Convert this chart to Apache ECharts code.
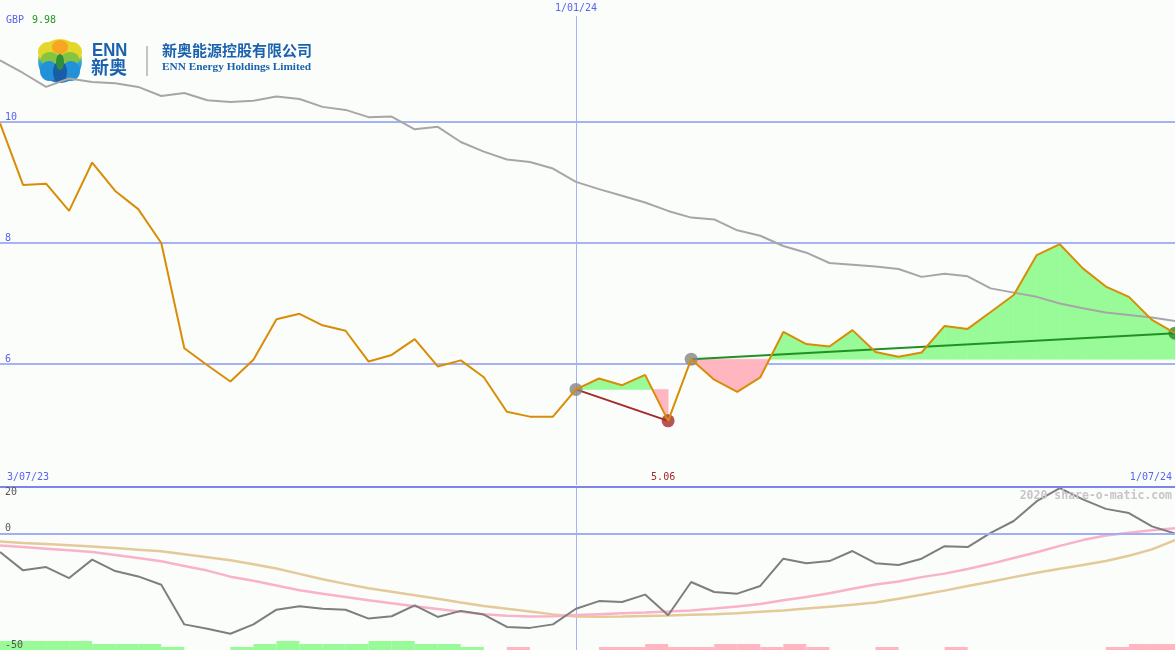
<!DOCTYPE html>
<html><head><meta charset="utf-8">
<script src="https://cdn.jsdelivr.net/npm/echarts@6/dist/echarts.min.js"></script>
<style>html,body{margin:0;padding:0;background:#fbfdfb}#c{width:1175px;height:650px}</style>
</head><body><div id="c"></div><script>
// ---------- data ----------
const dates = ['10/07/23','17/07/23','24/07/23','31/07/23','7/08/23','14/08/23','21/08/23','28/08/23','4/09/23','11/09/23',
'18/09/23','25/09/23','2/10/23','9/10/23','16/10/23','23/10/23','30/10/23','6/11/23','13/11/23','20/11/23',
'27/11/23','4/12/23','11/12/23','18/12/23','25/12/23','1/01/24','8/01/24','15/01/24','22/01/24','29/01/24',
'5/02/24','12/02/24','19/02/24','26/02/24','4/03/24','11/03/24','18/03/24','25/03/24','1/04/24','8/04/24',
'15/04/24','22/04/24','29/04/24','6/05/24','13/05/24','20/05/24','27/05/24','3/06/24','10/06/24','17/06/24',
'24/06/24','1/07/24'];
const price = [9.98,8.96,8.98,8.53,9.33,8.86,8.56,8.00,6.26,5.98,
5.71,6.07,6.74,6.83,6.64,6.55,6.04,6.15,6.41,5.96,
6.06,5.78,5.21,5.13,5.13,5.58,5.76,5.65,5.82,5.06,
6.08,5.74,5.54,5.78,6.53,6.33,6.29,6.56,6.20,6.12,
6.19,6.63,6.58,6.86,7.14,7.80,7.98,7.58,7.28,7.11,
6.73,6.51];
const movingAvg = [11.02,10.81,10.58,10.72,10.66,10.64,10.58,10.43,10.48,10.36,
10.33,10.35,10.42,10.38,10.25,10.20,10.08,10.09,9.88,9.92,
9.67,9.51,9.38,9.34,9.23,9.01,8.89,8.78,8.67,8.53,
8.42,8.39,8.21,8.12,7.95,7.84,7.67,7.64,7.61,7.57,
7.44,7.49,7.45,7.25,7.18,7.11,7.00,6.92,6.85,6.81,
6.77,6.71];
const oscillator = [-7.9,-15.8,-14.4,-19.1,-11.2,-16.1,-18.4,-22.0,-39.0,-40.9,
-43.0,-39.0,-32.7,-31.2,-32.3,-32.7,-36.5,-35.5,-30.8,-35.8,
-33.2,-34.8,-40.1,-40.5,-39.0,-32.3,-29.0,-29.4,-26.2,-35.1,
-20.8,-25.1,-25.8,-22.5,-10.8,-12.7,-11.8,-7.5,-12.7,-13.5,
-10.8,-5.4,-5.8,0.3,5.4,13.9,19.5,14.7,10.6,8.8,
3.1,0.0];
const oscFast = [-5.1,-5.8,-6.5,-7.2,-7.9,-9.2,-10.5,-11.9,-13.9,-15.9,
-18.5,-20.3,-22.3,-24.3,-25.8,-27.2,-28.6,-29.9,-31.2,-32.4,
-33.6,-34.6,-35.3,-35.6,-35.5,-35.0,-34.6,-34.2,-33.9,-33.5,
-33.0,-32.2,-31.3,-30.2,-28.6,-27.2,-25.6,-23.7,-21.9,-20.6,
-18.7,-17.2,-15.2,-13.0,-10.5,-8.0,-5.3,-2.8,-0.8,0.4,
1.4,2.3];
const oscSlow = [-3.4,-4.0,-4.5,-5.0,-5.5,-6.2,-6.9,-7.6,-8.9,-10.2,
-11.5,-13.2,-15.0,-17.3,-19.6,-21.6,-23.5,-25.0,-26.5,-28.0,
-29.6,-31.1,-32.3,-33.5,-34.7,-35.6,-35.7,-35.6,-35.4,-35.2,
-34.9,-34.6,-34.2,-33.6,-33.0,-32.2,-31.4,-30.6,-29.6,-28.0,
-26.3,-24.5,-22.5,-20.7,-18.7,-16.8,-15.1,-13.5,-11.8,-9.5,
-6.8,-2.8];
// weekly signal blocks (between consecutive points): + green, - pink
const signalLevels = [3,3,3,3,2,2,2,1,0,0,
1,2,3,2,2,2,3,3,2,2,
1,0,-1,0,0,0,-1,-1,-2,-1,
-1,-2,-2,-1,-2,-1,0,0,-1,0,
0,-1,0,0,0,0,0,0,-1,-2,
-2];
const priceTicks = [6, 8, 10];
const oscTicks = [20, 0, -50];
const dateTickIdx = [0, 25, 51];
const dateTickText = ['3/07/23', '1/01/24', '1/07/24'];
const dateTickSide = ['bottom', 'top', 'bottom'];
const trendDown = [25, 29];
const trendUp = [30, 51];
const currency = 'GBP';

// ---------- styles ----------
const MONO = '"DejaVu Sans Mono", monospace';
const BG = '#fbfdfb';
const BLUE_TXT = '#5a62f0';
const GRID_C = '#a6b2f2';
const GREEN_F = '#98fb98', PINK_F = '#ffb6c1';
const T = 'rgba(0,0,0,0)';

const barCats = dates.slice(1);
const fillData = [];
[trendDown, trendUp].forEach(([s, e]) => {
  for (let k = s; k < e; k++) fillData.push([k, price[k], price[k + 1], price[s]]);
});

function renderFill(params, api) {
  const k = api.value(0), v0 = api.value(1), v1 = api.value(2), b = api.value(3);
  const p0 = api.coord([k, v0]), p1 = api.coord([k + 1, v1]);
  const b0 = api.coord([k, b]), b1 = api.coord([k + 1, b]);
  const ch = [];
  const poly = (pts, c) => ch.push({type: 'polygon', shape: {points: pts}, style: {fill: c, stroke: c, lineWidth: 0.6}});
  const d0 = v0 - b, d1 = v1 - b;
  if (d0 >= 0 && d1 >= 0) poly([b0, p0, p1, b1], GREEN_F);
  else if (d0 <= 0 && d1 <= 0) poly([b0, p0, p1, b1], PINK_F);
  else {
    const t = d0 / (d0 - d1);
    const xc = p0[0] + t * (p1[0] - p0[0]);
    const c = [xc, b0[1]];
    poly([b0, p0, c], d0 > 0 ? GREEN_F : PINK_F);
    poly([c, p1, b1], d1 > 0 ? GREEN_F : PINK_F);
  }
  return {type: 'group', children: ch};
}

const bottomLabel = (i) => {
  const j = dateTickIdx.indexOf(i);
  return (j >= 0 && dateTickSide[j] === 'bottom') || i === trendDown[1];
};
const topLabel = (i) => {
  const j = dateTickIdx.indexOf(i);
  return j >= 0 && dateTickSide[j] === 'top';
};

const option = {
  backgroundColor: BG,
  animation: false,
  grid: [
    {left: 0, right: 0, top: 1, height: 484},
    {left: 0, right: 0, top: 487, height: 163}
  ],
  xAxis: [
    {gridIndex: 0, type: 'category', data: dates, boundaryGap: false, position: 'bottom',
     axisLine: {show: false}, axisTick: {show: false}, splitLine: {show: false},
     axisLabel: {inside: true, margin: 3, interval: (i) => bottomLabel(i),
       alignMinLabel: 'left', alignMaxLabel: 'right',
       fontFamily: MONO, fontSize: 10, color: BLUE_TXT,
       formatter: (v, i) => {
         if (i === trendDown[1]) return '{r|' + price[i].toFixed(2) + '}';
         const j = dateTickIdx.indexOf(i);
         return j >= 0 ? '{d|' + dateTickText[j] + '}' : '';
       },
       rich: {r: {color: '#a52a2a', fontFamily: MONO, fontSize: 10, padding: [0, 10, 0, 0]},
              d: {color: BLUE_TXT, fontFamily: MONO, fontSize: 10, padding: [0, 3, 0, 7]}}}},
    {gridIndex: 0, type: 'category', data: dates, boundaryGap: false, position: 'top',
     axisLine: {show: false}, axisTick: {show: false},
     splitLine: {show: true, interval: (i) => topLabel(i), lineStyle: {color: '#a9b1f4', width: 1}},
     axisLabel: {inside: true, margin: 0, interval: (i) => topLabel(i),
       fontFamily: MONO, fontSize: 10, color: BLUE_TXT, backgroundColor: BG, padding: [2, 3, 3, 3],
       formatter: (v, i) => { const j = dateTickIdx.indexOf(i); return j >= 0 ? dateTickText[j] : ''; }}},
    {gridIndex: 1, type: 'category', data: dates, boundaryGap: false,
     axisLine: {show: false}, axisTick: {show: false}, axisLabel: {show: false},
     splitLine: {show: true, interval: (i) => topLabel(i), lineStyle: {color: '#a9b1f4', width: 1}}},
    {gridIndex: 1, type: 'category', data: barCats, boundaryGap: true, show: false}
  ],
  yAxis: [
    {gridIndex: 0, type: 'value', min: 4, max: 12, interval: 2,
     axisLine: {show: false}, axisTick: {show: false},
     splitLine: {show: true, lineStyle: {color: [T, GRID_C, GRID_C, GRID_C, T], width: 2}},
     axisLabel: {inside: true, margin: 5, verticalAlign: 'bottom', fontFamily: MONO, fontSize: 10, color: BLUE_TXT,
       formatter: (v) => priceTicks.includes(v) ? String(v) : ''}},
    {gridIndex: 1, type: 'value', min: -50, max: 20, interval: 10, z: 10,
     axisLine: {show: false}, axisTick: {show: false},
     splitLine: {show: true, lineStyle: {color: [T, T, T, T, T, '#a2aef0', T, '#7a86ea'], width: 2}},
     axisLabel: {inside: true, margin: 5, verticalAlign: 'bottom', verticalAlignMaxLabel: 'top',
       fontFamily: MONO, fontSize: 10, color: '#555555',
       formatter: (v) => oscTicks.includes(v) ? String(v) : ''}},
    {gridIndex: 1, type: 'value', min: 0, max: 54, show: false}
  ],
  series: [
    {type: 'custom', xAxisIndex: 0, yAxisIndex: 0, renderItem: renderFill, data: fillData, z: 1,
     encode: {x: 0, y: 1}, silent: true},
    {type: 'line', xAxisIndex: 0, yAxisIndex: 0, data: movingAvg, symbol: 'none', z: 2,
     lineStyle: {color: '#a6a6a6', width: 2}},
    {type: 'line', xAxisIndex: 0, yAxisIndex: 0, data: trendDown.map(i => [i, price[i]]), symbol: 'none', z: 3,
     lineStyle: {color: '#a52a2a', width: 2}},
    {type: 'line', xAxisIndex: 0, yAxisIndex: 0, data: trendUp.map(i => [i, price[i]]), symbol: 'none', z: 3,
     lineStyle: {color: '#229022', width: 2}},
    {type: 'scatter', xAxisIndex: 0, yAxisIndex: 0, symbolSize: 13, z: 4,
     data: [
       {value: [trendDown[0], price[trendDown[0]]], itemStyle: {color: '#858585'}},
       {value: [trendDown[1], price[trendDown[1]]], itemStyle: {color: '#a52a2a'}},
       {value: [trendUp[0], price[trendUp[0]]], itemStyle: {color: '#858585'}},
       {value: [trendUp[1], price[trendUp[1]]], itemStyle: {color: '#228b22'}}
     ]},
    {type: 'line', xAxisIndex: 0, yAxisIndex: 0, data: price, symbol: 'none', z: 5,
     lineStyle: {color: '#d98d06', width: 2}},
    {type: 'bar', xAxisIndex: 3, yAxisIndex: 2, barWidth: '100%', barCategoryGap: 0, z: 1,
     data: signalLevels.map(v => ({value: Math.abs(v), itemStyle: {color: v >= 0 ? GREEN_F : PINK_F}}))},
    {type: 'line', xAxisIndex: 2, yAxisIndex: 1, data: oscSlow, symbol: 'none', z: 2,
     lineStyle: {color: '#e3ca98', width: 2.5}},
    {type: 'line', xAxisIndex: 2, yAxisIndex: 1, data: oscFast, symbol: 'none', z: 3,
     lineStyle: {color: '#f9b2c8', width: 2.5}},
    {type: 'line', xAxisIndex: 2, yAxisIndex: 1, data: oscillator, symbol: 'none', z: 4,
     lineStyle: {color: '#7e7e7e', width: 2}}
  ],
  graphic: [
    {type: 'text', x: 6, y: 15, z: 10, style: {
      text: '{a|' + currency + '}{b|' + price[0].toFixed(2) + '}',
      rich: {a: {fill: BLUE_TXT, font: '10px ' + MONO, padding: [0, 8, 0, 0]}, b: {fill: '#1f9a1f', font: '10px ' + MONO}}}},
    {type: 'text', right: 3, top: 490, z: 10, style: {
      text: '2020 share-o-matic.com', fill: '#c6c6c6', font: 'bold 11.5px ' + MONO}},
    // logo
    {type: 'group', x: 0, y: 0, z: 10, children: [
      {type: 'circle', shape: {cx: 60, cy: 61, r: 22}, style: {fill: {type: 'linear', x: 0, y: 0, x2: 0, y2: 1,
        colorStops: [{offset: 0, color: '#f6d71c'}, {offset: 0.42, color: '#9ccc3c'}, {offset: 0.55, color: '#2aa4e2'}, {offset: 1, color: '#1d6fc2'}]}}},
      {type: 'ellipse', shape: {cx: 48, cy: 52, rx: 10, ry: 10}, style: {fill: '#e4d62a'}},
      {type: 'ellipse', shape: {cx: 72, cy: 52, rx: 10, ry: 10}, style: {fill: '#e4d62a'}},
      {type: 'ellipse', shape: {cx: 60, cy: 47, rx: 8, ry: 7}, style: {fill: '#f5a623'}},
      {type: 'ellipse', shape: {cx: 50, cy: 59, rx: 9, ry: 7}, style: {fill: '#86c440'}},
      {type: 'ellipse', shape: {cx: 70, cy: 59, rx: 9, ry: 7}, style: {fill: '#86c440'}},
      {type: 'ellipse', shape: {cx: 49, cy: 71, rx: 9, ry: 10}, style: {fill: '#2391d8'}},
      {type: 'ellipse', shape: {cx: 71, cy: 71, rx: 9, ry: 10}, style: {fill: '#2391d8'}},
      {type: 'ellipse', shape: {cx: 60, cy: 72, rx: 7, ry: 11}, style: {fill: '#1a5ca6'}},
      {type: 'ellipse', shape: {cx: 60, cy: 62, rx: 4, ry: 8}, style: {fill: '#2f8f3a'}},
      {type: 'text', x: 92, y: 41, scaleX: 0.88, originX: 0, originY: 0, style: {text: 'ENN', fill: '#1b62ae', font: 'bold 19px "Liberation Sans", Arial, sans-serif'}},
      {type: 'text', x: 91, y: 58, style: {text: '新奥', fill: '#1b62ae', font: 'bold 18px "Noto Sans CJK SC", sans-serif'}},
      {type: 'line', shape: {x1: 147, y1: 46, x2: 147, y2: 76}, style: {stroke: '#c4c4c4', lineWidth: 2}},
      {type: 'text', x: 162, y: 43, style: {text: '新奥能源控股有限公司', fill: '#1b62ae', font: 'bold 15px "Noto Sans CJK SC", sans-serif'}},
      {type: 'text', x: 162, y: 62, style: {text: 'ENN Energy Holdings Limited', fill: '#1b62ae', font: 'bold 11.3px "Liberation Serif", serif'}}
    ]}
  ]
};
const chart = echarts.init(document.getElementById('c'), null, {renderer: 'canvas'});
chart.setOption(option);
</script></body></html>
